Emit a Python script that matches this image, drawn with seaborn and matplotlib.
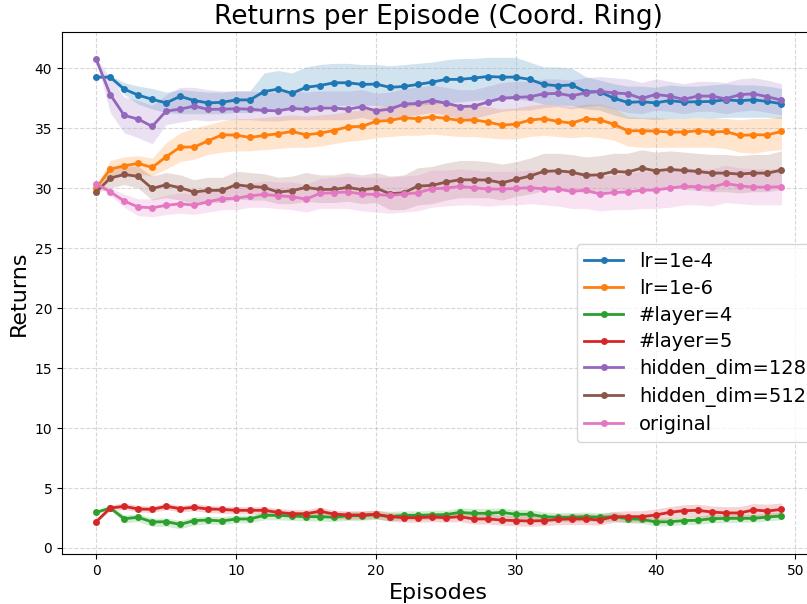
import numpy as np
import pandas as pd
import seaborn as sns
import matplotlib
matplotlib.use("Agg")
import matplotlib.pyplot as plt

episodes = list(range(50))
labels = ["lr=1e-4", "lr=1e-6", "#layer=4", "#layer=5", "hidden_dim=128", "hidden_dim=512", "original"]

lr_1e4 = [39.25, 39.25, 38.25, 37.75, 37.4, 37.1, 37.65, 37.3, 37.1, 37.15, 37.35, 37.35, 38.05, 38.25, 37.9, 38.4, 38.55,
          38.78, 38.78, 38.64, 38.67, 38.4, 38.47, 38.64, 38.83, 39.06, 39.06, 39.17, 39.3, 39.25, 39.25, 39.06, 38.64,
          38.53, 38.6, 38.03, 38.03, 37.5, 37.14, 37.2, 37.1, 37.3, 37.17, 37.2, 37.22, 37.36, 37.28, 37.36, 37.22, 37.03]
lr_1e4_lo = [39.2, 39.1, 37.8, 37.0, 36.6, 36.3, 36.2, 36.2, 36.2, 36.2, 36.3, 36.3, 36.5, 36.6, 36.5, 36.7, 36.8,
             36.9, 36.9, 36.9, 36.9, 36.8, 36.8, 36.9, 37.0, 37.1, 37.2, 37.3, 37.4, 37.4, 37.4, 37.3, 37.0,
             36.9, 36.9, 36.6, 36.5, 36.1, 35.8, 35.8, 35.7, 35.8, 35.8, 35.9, 35.8, 35.9, 35.9, 35.9, 35.9, 35.8]
lr_1e4_hi = [39.3, 39.4, 38.8, 38.5, 38.3, 38.0, 38.2, 38.1, 38.0, 38.0, 38.1, 38.1, 39.6, 39.8, 39.6, 40.1, 40.3,
             40.4, 40.4, 40.3, 40.3, 40.2, 40.3, 40.4, 40.5, 40.7, 40.8, 40.8, 40.9, 40.9, 40.9, 40.5, 40.1,
             40.1, 40.0, 39.3, 39.0, 38.7, 38.5, 38.5, 38.4, 38.6, 38.5, 38.5, 38.6, 38.7, 38.6, 38.6, 38.5, 38.3]

lr_1e6 = [30.0, 31.58, 31.86, 32.06, 31.72, 32.61, 33.42, 33.42, 33.94, 34.44, 34.42, 34.22, 34.39, 34.53, 34.72, 34.44, 34.58,
          34.8, 35.11, 35.14, 35.56, 35.64, 35.86, 35.78, 35.94, 35.81, 35.64, 35.69, 35.5, 35.25, 35.33, 35.67, 35.78,
          35.56, 35.42, 35.78, 35.69, 35.33, 34.78, 34.78, 34.75, 34.67, 34.67, 34.78, 34.67, 34.72, 34.39, 34.44, 34.44, 34.72]
lr_1e6_lo = [29.8, 30.9, 31.0, 31.2, 31.0, 31.6, 32.2, 32.4, 32.8, 33.0, 33.1, 33.1, 33.2, 33.3, 33.4, 33.4, 33.5,
             33.7, 33.9, 34.0, 34.2, 34.3, 34.4, 34.4, 34.5, 34.4, 34.3, 34.3, 34.2, 34.1, 34.1, 34.3, 34.4,
             34.3, 34.2, 34.3, 34.2, 34.0, 33.5, 33.4, 33.4, 33.4, 33.4, 33.4, 33.4, 33.3, 33.0, 32.9, 33.1, 33.2]
lr_1e6_hi = [30.2, 32.3, 32.6, 32.7, 32.5, 33.8, 34.6, 35.0, 35.3, 35.6, 35.8, 35.8, 35.9, 36.0, 36.1, 36.0, 36.1,
             36.2, 36.4, 36.5, 36.8, 36.9, 37.0, 37.1, 37.2, 37.1, 37.0, 36.9, 36.8, 36.6, 36.7, 36.9, 37.0,
             36.9, 36.8, 37.0, 37.0, 36.7, 36.0, 35.9, 35.9, 35.8, 35.8, 35.9, 35.8, 35.8, 35.7, 35.8, 35.8, 36.0]

layer4 = [2.97, 3.33, 2.44, 2.56, 2.17, 2.19, 1.97, 2.28, 2.33, 2.25, 2.42, 2.42, 2.72, 2.72, 2.67, 2.61, 2.61,
          2.56, 2.69, 2.69, 2.78, 2.61, 2.72, 2.72, 2.75, 2.78, 2.97, 2.89, 2.89, 2.97, 2.81, 2.81, 2.61,
          2.56, 2.56, 2.61, 2.56, 2.61, 2.44, 2.39, 2.17, 2.19, 2.28, 2.31, 2.44, 2.47, 2.47, 2.47, 2.58, 2.67]
layer4_lo = [2.9, 3.2, 2.1, 2.2, 1.8, 1.8, 1.6, 1.9, 2.0, 1.95, 2.1, 2.1, 2.35, 2.35, 2.3, 2.25, 2.25,
             2.2, 2.3, 2.3, 2.4, 2.25, 2.35, 2.35, 2.4, 2.4, 2.6, 2.5, 2.5, 2.6, 2.45, 2.45, 2.25,
             2.2, 2.2, 2.25, 2.2, 2.25, 2.1, 2.05, 1.85, 1.85, 1.95, 1.95, 2.1, 2.1, 2.15, 2.15, 2.25, 2.35]
layer4_hi = [3.0, 3.45, 2.75, 2.85, 2.5, 2.5, 2.3, 2.6, 2.65, 2.6, 2.75, 2.75, 3.0, 3.0, 2.95, 2.95, 2.95,
             2.95, 3.05, 3.05, 3.15, 3.05, 3.1, 3.1, 3.15, 3.15, 3.35, 3.3, 3.3, 3.35, 3.2, 3.2, 3.0,
             2.95, 2.95, 3.0, 2.95, 3.0, 2.8, 2.75, 2.5, 2.5, 2.6, 2.65, 2.8, 2.8, 2.8, 2.8, 2.9, 3.0]

layer5 = [2.19, 3.33, 3.47, 3.25, 3.22, 3.47, 3.28, 3.39, 3.25, 3.22, 3.14, 3.14, 3.14, 2.97, 2.86, 2.86, 3.06,
          2.83, 2.75, 2.75, 2.81, 2.61, 2.53, 2.53, 2.58, 2.53, 2.61, 2.42, 2.42, 2.33, 2.28, 2.25, 2.28,
          2.39, 2.42, 2.42, 2.33, 2.61, 2.61, 2.61, 2.75, 2.97, 3.11, 3.14, 3.0, 2.92, 2.92, 3.17, 3.08, 3.22]
layer5_lo = [2.15, 3.1, 3.2, 3.0, 2.95, 3.2, 3.0, 3.1, 2.95, 2.9, 2.85, 2.85, 2.8, 2.65, 2.55, 2.5, 2.7,
             2.45, 2.4, 2.4, 2.45, 2.25, 2.15, 2.15, 2.2, 2.15, 2.2, 2.0, 2.0, 1.9, 1.85, 1.8, 1.85,
             1.95, 1.95, 1.95, 1.9, 2.15, 2.15, 2.15, 2.25, 2.45, 2.6, 2.6, 2.5, 2.45, 2.45, 2.65, 2.6, 2.7]
layer5_hi = [2.25, 3.6, 3.75, 3.55, 3.5, 3.75, 3.55, 3.7, 3.55, 3.5, 3.45, 3.45, 3.45, 3.3, 3.2, 3.2, 3.4,
             3.15, 3.1, 3.1, 3.15, 2.95, 2.9, 2.9, 2.95, 2.9, 3.0, 2.8, 2.8, 2.75, 2.7, 2.7, 2.7,
             2.8, 2.85, 2.85, 2.8, 3.05, 3.1, 3.1, 3.25, 3.45, 3.6, 3.65, 3.5, 3.45, 3.45, 3.7, 3.65, 3.75]

hd128 = [40.72, 37.8, 36.06, 35.75, 35.14, 36.42, 36.58, 36.83, 36.56, 36.58, 36.61, 36.58, 36.47, 36.44, 36.64, 36.56, 36.67,
         36.67, 36.58, 36.78, 36.44, 36.58, 37.0, 37.06, 37.3, 37.08, 36.8, 36.83, 37.17, 37.5, 37.56, 37.61, 37.86,
         37.89, 37.69, 37.94, 38.06, 37.94, 37.86, 37.47, 37.8, 37.67, 37.39, 37.67, 37.67, 37.44, 37.78, 37.86, 37.61, 37.33]
hd128_lo = [40.7, 36.3, 34.6, 34.2, 33.7, 35.3, 35.5, 35.7, 35.6, 35.7, 35.7, 35.7, 35.6, 35.6, 35.7, 35.7, 35.7,
            35.7, 35.7, 35.9, 35.6, 35.7, 36.0, 36.1, 36.3, 36.1, 35.8, 35.8, 36.1, 36.4, 36.5, 36.5, 36.7,
            36.8, 36.6, 36.8, 36.9, 36.6, 36.3, 36.2, 36.5, 36.4, 36.2, 36.4, 36.4, 36.2, 36.4, 36.5, 36.3, 36.1]
hd128_hi = [40.8, 39.2, 37.6, 37.3, 36.9, 37.8, 38.4, 38.4, 38.2, 38.1, 38.1, 38.1, 38.0, 38.0, 38.1, 38.0, 38.1,
            38.1, 38.1, 38.2, 37.9, 38.0, 38.3, 38.4, 38.6, 38.4, 38.2, 38.2, 38.5, 38.8, 38.9, 38.9, 39.1,
            39.1, 39.0, 39.2, 39.3, 39.2, 39.1, 38.8, 39.1, 38.9, 38.7, 38.9, 38.9, 38.8, 39.1, 39.2, 39.0, 38.7]

hd512 = [29.67, 30.83, 31.14, 30.97, 29.97, 30.28, 30.03, 29.67, 29.81, 29.81, 30.28, 30.14, 30.06, 29.67, 29.78, 30.06, 29.89,
         29.89, 30.06, 29.86, 30.0, 29.53, 29.61, 30.17, 30.22, 30.5, 30.69, 30.69, 30.67, 30.44, 30.72, 31.0, 31.39,
         31.44, 31.33, 31.06, 31.11, 31.39, 31.33, 31.67, 31.44, 31.56, 31.47, 31.39, 31.25, 31.25, 31.17, 31.25, 31.25, 31.5]
hd512_lo = [29.6, 30.0, 30.3, 30.0, 29.0, 29.2, 29.0, 28.7, 28.8, 28.8, 29.1, 29.0, 29.0, 28.7, 28.7, 28.9, 28.8,
            28.8, 28.9, 28.7, 28.8, 28.2, 28.2, 28.6, 28.7, 29.0, 29.2, 29.2, 29.2, 29.0, 29.3, 29.5, 29.8,
            29.9, 29.8, 29.6, 29.6, 29.9, 29.8, 30.1, 29.9, 30.0, 29.9, 29.8, 29.7, 29.7, 29.6, 29.7, 29.7, 29.9]
hd512_hi = [29.8, 31.6, 31.9, 31.8, 31.0, 31.3, 31.1, 30.7, 30.9, 30.9, 31.4, 31.3, 31.2, 30.9, 31.0, 31.3, 31.1,
            31.1, 31.3, 31.1, 31.3, 31.0, 31.1, 31.7, 31.8, 32.1, 32.3, 32.3, 32.2, 32.0, 32.2, 32.5, 32.9,
            32.9, 32.8, 32.6, 32.7, 32.9, 32.9, 33.2, 33.0, 33.1, 33.0, 32.9, 32.8, 32.8, 32.7, 32.8, 32.8, 33.1]

original = [30.36, 29.69, 28.92, 28.42, 28.36, 28.56, 28.69, 28.58, 28.86, 29.11, 29.14, 29.36, 29.47, 29.36, 29.28, 29.08, 29.56,
            29.61, 29.69, 29.5, 29.47, 29.39, 29.5, 29.61, 29.94, 30.0, 30.14, 30.03, 29.92, 29.92, 29.97, 30.03, 29.94,
            29.92, 29.72, 29.83, 29.5, 29.64, 29.67, 29.83, 29.83, 30.0, 30.14, 30.11, 30.06, 30.39, 30.19, 30.08, 30.08, 30.11]
original_lo = [30.3, 29.4, 28.4, 27.7, 27.6, 27.8, 27.9, 27.8, 28.0, 28.2, 28.2, 28.4, 28.4, 28.3, 28.2, 28.0, 28.3,
               28.3, 28.3, 28.1, 28.0, 27.9, 28.0, 28.1, 28.4, 28.5, 28.6, 28.6, 28.5, 28.6, 28.6, 28.7, 28.6,
               28.5, 28.3, 28.3, 28.1, 28.2, 28.2, 28.3, 28.3, 28.4, 28.6, 28.6, 28.5, 28.8, 28.7, 28.6, 28.6, 28.6]
original_hi = [30.4, 30.0, 29.5, 29.1, 29.1, 29.4, 29.6, 29.5, 29.8, 30.1, 30.2, 30.4, 30.6, 30.5, 30.5, 30.3, 30.8,
               30.9, 31.0, 30.9, 30.9, 30.9, 31.0, 31.1, 31.5, 31.5, 31.6, 31.5, 31.4, 31.4, 31.4, 31.5, 31.4,
               31.4, 31.2, 31.4, 31.0, 31.1, 31.2, 31.4, 31.4, 31.6, 31.7, 31.6, 31.6, 31.9, 31.7, 31.6, 31.6, 31.6]

means = [lr_1e4, lr_1e6, layer4, layer5, hd128, hd512, original]
lows = [lr_1e4_lo, lr_1e6_lo, layer4_lo, layer5_lo, hd128_lo, hd512_lo, original_lo]
highs = [lr_1e4_hi, lr_1e6_hi, layer4_hi, layer5_hi, hd128_hi, hd512_hi, original_hi]

rows = []
for lab, m in zip(labels, means):
    for e, v in zip(episodes, m):
        rows.append({"Episodes": e, "Returns": v, "setting": lab})
df = pd.DataFrame(rows)

colors = sns.color_palette("tab10", 7)

fig = plt.figure(figsize=(8.07, 6.04), dpi=100)
ax = fig.add_axes([0.0768, 0.0828, 0.934, 0.864])

for lab, lo, hi, c in zip(labels, lows, highs, colors):
    ax.fill_between(episodes, lo, hi, color=c, alpha=0.2, linewidth=0)

sns.lineplot(data=df, x="Episodes", y="Returns", hue="setting", hue_order=labels,
             palette=colors, marker="o", markersize=5, markeredgewidth=0,
             linewidth=2, errorbar=None, ax=ax)

ax.set_xlim(-2.45, 51.45)
ax.set_ylim(-0.5, 43.0)
ax.set_xticks([0, 10, 20, 30, 40, 50])
ax.set_yticks([0, 5, 10, 15, 20, 25, 30, 35, 40])
ax.tick_params(labelsize=10)
ax.grid(True, linestyle="--", alpha=0.5)
ax.set_title("Returns per Episode (Coord. Ring)", fontsize=19)
ax.set_xlabel("Episodes", fontsize=16)
ax.set_ylabel("Returns", fontsize=16)
ax.legend(loc="upper left", bbox_to_anchor=(0.670, 0.612), fontsize=14, labelspacing=0.4)

fig.savefig("out.png", dpi=100)
